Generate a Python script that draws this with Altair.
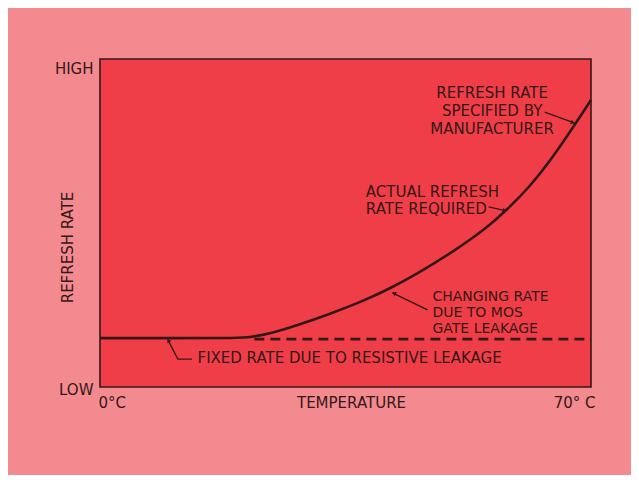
import altair as alt
import pandas as pd

# Curve: actual refresh rate required vs temperature (0..70 °C), rate 0 (LOW) .. 1 (HIGH)
temp = [0, 10, 20, 21.4, 24.2, 28.0, 32.8, 37.5, 41.3, 45.2, 50.4, 55.1, 58.0, 61.3, 64.6, 67.5, 70]
rate = [0.149, 0.149, 0.149, 0.152, 0.162, 0.187, 0.223, 0.262, 0.300, 0.345, 0.413, 0.484, 0.540, 0.611, 0.702, 0.794, 0.875]

# Fixed rate (dashed continuation)
fixed_temp = [22, 70]
fixed_rate = [0.146, 0.146]

INK = "#361717"
FONT = "DejaVu Sans"
FS = 15

curve_df = pd.DataFrame({"t": temp, "r": rate})
fixed_df = pd.DataFrame({"t": fixed_temp, "r": fixed_rate})

xs = alt.Scale(domain=[0, 70], nice=False, zero=False)
ys = alt.Scale(domain=[0, 1], nice=False, zero=False)

x_axis = alt.Axis(values=[0, 70], labelExpr="datum.value == 0 ? '0°C' : '70° C'",
                  domain=False, ticks=False, grid=False, tickSize=0,
                  labelFlush=True, labelPadding=15, labelBaseline="middle",
                  labelOffset={"condition": {"test": "datum.value == 70", "value": 4}, "value": -2},
                  labelFont=FONT, labelFontSize=FS, labelColor=INK,
                  title="TEMPERATURE", titleFont=FONT, titleFontSize=FS, titleFontWeight="normal",
                  titleColor=INK, titleX=251, titleY=15, titleBaseline="middle", titleAlign="center")
y_axis = alt.Axis(values=[0, 1], labelExpr="datum.value == 1 ? 'HIGH' : 'LOW'",
                  domain=False, ticks=False, grid=False, tickSize=0,
                  labelFlush=False, labelPadding=7, labelBaseline="middle", labelAlign="right",
                  labelOffset={"condition": {"test": "datum.value == 1", "value": 9}, "value": 2},
                  labelFont=FONT, labelFontSize=FS, labelColor=INK,
                  title="REFRESH RATE", titleFont=FONT, titleFontSize=FS, titleFontWeight="normal",
                  titleColor=INK, titleX=-33, titleY=188, titleBaseline="middle", titleAlign="center",
                  titleAngle=270)

curve = alt.Chart(curve_df).mark_line(color=INK, strokeWidth=2.6, interpolate="basis").encode(
    x=alt.X("t:Q", scale=xs, axis=x_axis),
    y=alt.Y("r:Q", scale=ys, axis=y_axis),
)

dashed = alt.Chart(fixed_df).mark_line(color=INK, strokeWidth=2.6, strokeDash=[10, 6]).encode(
    x=alt.X("t:Q", scale=xs), y=alt.Y("r:Q", scale=ys)
)

# Annotation texts
notes = pd.DataFrame({
    "t": [55.9, 37.9, 47.4, 13.9],
    "r": [0.896, 0.595, 0.274, 0.088],
    "label": [
        ["REFRESH RATE", "SPECIFIED BY", "MANUFACTURER"],
        ["ACTUAL REFRESH", "RATE REQUIRED"],
        ["CHANGING RATE", "DUE TO MOS", "GATE LEAKAGE"],
        ["FIXED RATE DUE TO RESISTIVE LEAKAGE"],
    ],
    "align": ["center", "left", "left", "left"],
})

def note(i, lh, fs=FS):
    return alt.Chart(notes.iloc[[i]]).mark_text(
        font=FONT, fontSize=fs, color=INK, align=notes["align"][i], baseline="middle", lineHeight=lh
    ).encode(x=alt.X("t:Q", scale=xs), y=alt.Y("r:Q", scale=ys), text="label")

texts = [note(0, 18), note(1, 17), note(2, 16, 14), note(3, 16)]

# Leader lines
leaders = pd.DataFrame({
    "t": [63.4, 67.6, 55.4, 57.9, 46.7, 41.7, 9.7, 11.1, 13.1],
    "r": [0.838, 0.805, 0.549, 0.537, 0.235, 0.287, 0.143, 0.085, 0.085],
    "g": ["a", "a", "b", "b", "c", "c", "d", "d", "d"],
    "o": [0, 1, 0, 1, 0, 1, 0, 1, 2],
})
leader = alt.Chart(leaders).mark_line(color=INK, strokeWidth=1.3).encode(
    x=alt.X("t:Q", scale=xs), y=alt.Y("r:Q", scale=ys), detail="g:N", order="o:Q"
)

# Small arrowheads at the curve end of each leader
heads = pd.DataFrame({
    "t": [67.3, 57.6, 42.0, 9.8],
    "r": [0.807, 0.538, 0.285, 0.140],
    "ang": [111, 103, 296, 330],
})
arrow = alt.Chart(heads).mark_point(shape="triangle", filled=True, color=INK, size=22, opacity=1).encode(
    x=alt.X("t:Q", scale=xs), y=alt.Y("r:Q", scale=ys), angle=alt.Angle("ang:Q", scale=None)
)

chart = alt.layer(curve, dashed, leader, arrow, *texts).properties(
    width=491, height=328,
    autosize=alt.AutoSizeParams(type="none"),
    padding={"left": 92, "top": 51, "right": 40, "bottom": 88},
    background="#f38a90",
).configure_view(stroke=INK, strokeWidth=1.6, fill="#f03e48")

chart.save("out.html", embed_options={"renderer": "svg", "actions": False})
